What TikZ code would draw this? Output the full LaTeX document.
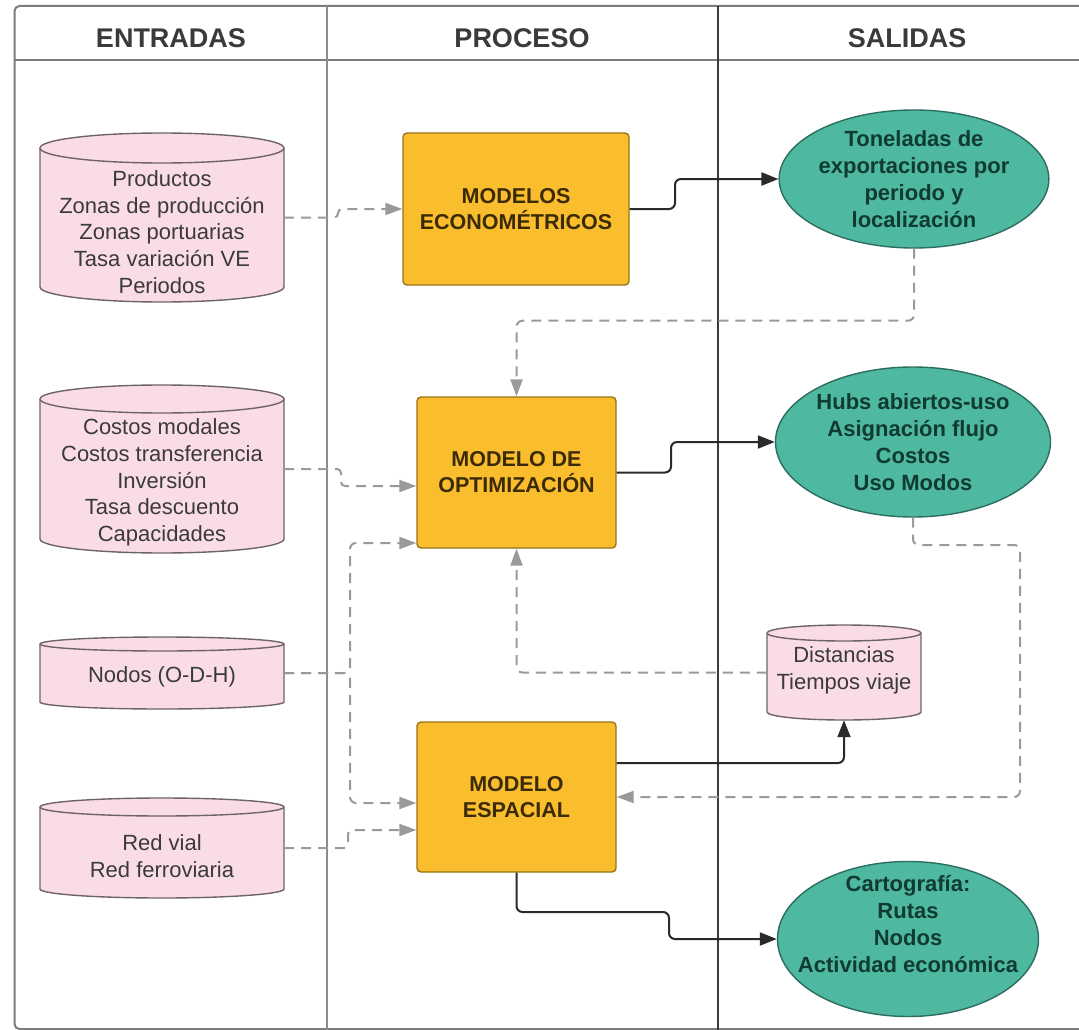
\documentclass[tikz,border=0pt]{standalone}
\usepackage{fontspec}
\setmainfont{Liberation Sans}
\usetikzlibrary{arrows.meta,calc,shapes.geometric}

\definecolor{pinkfill}{HTML}{FADDE4}
\definecolor{pinkline}{HTML}{6E6468}
\definecolor{orfill}{HTML}{FABD2D}
\definecolor{orline}{HTML}{9A7418}
\definecolor{tealfill}{HTML}{4FB8A1}
\definecolor{tealline}{HTML}{2C6D60}
\definecolor{tealtext}{HTML}{0F3B33}
\definecolor{boxtext}{HTML}{3A2A06}
\definecolor{frameline}{HTML}{7C7C7C}
\definecolor{sepone}{HTML}{8C8C8C}
\definecolor{septwo}{HTML}{3A3A3A}
\definecolor{dashline}{HTML}{9A9A9A}
\definecolor{solidline}{HTML}{2A2A2A}
\definecolor{celltext}{HTML}{3A3A3A}

\tikzset{
  cylbody/.style={fill=pinkfill, draw=pinkline, line width=1.4pt},
  cyllid/.style={draw=pinkline, line width=1.4pt},
  cyltxt/.style={align=center, text=celltext, inner sep=0pt,
    font=\fontsize{22}{26.7}\selectfont},
  headtxt/.style={text=celltext, inner sep=0pt,
    font=\bfseries\fontsize{27}{32}\selectfont},
  procbox/.style={rectangle, rounded corners=4pt, fill=orfill, draw=orline,
    line width=1.4pt, align=center, text=boxtext, inner sep=0pt,
    font=\bfseries\fontsize{21.5}{26}\selectfont},
  outell/.style={ellipse, fill=tealfill, draw=tealline, line width=1.4pt,
    align=center, text=tealtext, inner sep=0pt,
    font=\bfseries\fontsize{22}{27}\selectfont},
  dashcon/.style={draw=dashline, line width=2pt, dash pattern=on 10pt off 7pt,
    rounded corners=6pt, -{Triangle[length=17pt,width=12pt]}, color=dashline},
  solidcon/.style={draw=solidline, line width=2pt, rounded corners=6pt,
    -{Triangle[length=17pt,width=13pt]}, color=solidline},
}

% #1 name, #2 x1, #3 x2, #4 ytop, #5 ybottom, #6 lid radius, #7 text y, #8 text
\newcommand\drawcyl[8]{%
  \pgfmathsetmacro\cxm{(#2+#3)/2}%
  \pgfmathsetmacro\crx{(#3-#2)/2}%
  \pgfmathsetmacro\cyt{#4+#6}%
  \pgfmathsetmacro\cyb{#5-#6}%
  \pgfmathsetmacro\ck{0.5523*#6}%
  \pgfmathsetmacro\ckx{0.5523*\crx}%
  \path[cylbody] (#2,\cyt) -- (#2,\cyb)
     .. controls (#2,\cyb+\ck) and (\cxm-\ckx,#5) .. (\cxm,#5)
     .. controls (\cxm+\ckx,#5) and (#3,\cyb+\ck) .. (#3,\cyb)
     -- (#3,\cyt)
     .. controls (#3,\cyt-\ck) and (\cxm+\ckx,#4) .. (\cxm,#4)
     .. controls (\cxm-\ckx,#4) and (#2,\cyt-\ck) .. (#2,\cyt) -- cycle;
  \draw[cyllid] (#2,\cyt)
     .. controls (#2,\cyt+\ck) and (\cxm-\ckx,\cyt+#6) .. (\cxm,\cyt+#6)
     .. controls (\cxm+\ckx,\cyt+#6) and (#3,\cyt+\ck) .. (#3,\cyt);
  \node[inner sep=0pt, minimum width={#3-#2}, minimum height={#5-#4}]
     (#1) at (\cxm,{(#4+#5)/2}) {};
  \node[cyltxt] (#1-t) at (\cxm,#7) {#8};
}

\begin{document}
\begin{tikzpicture}[x=1pt,y=-1pt]
\useasboundingbox (0,0) rectangle (1079,1030);
\fill[white] (0,0) rectangle (1079,1030);

% frame
\begin{scope}
  \clip (0,0) rectangle (1079,1030);
  \draw[frameline, line width=2pt, rounded corners=5pt] (14.5,6) rectangle (1110,1029);
  \draw[frameline, line width=2pt] (14.5,60) -- (1110,60);
\end{scope}
\draw[sepone, line width=2.6pt] (327,6) -- (327,1030);
\draw[septwo, line width=1.6pt] (718,6) -- (718,1030);

\node[headtxt] (h1) at (171,38) {ENTRADAS};
\node[headtxt] (h2) at (522,38) {PROCESO};
\node[headtxt] (h3) at (907,38) {SALIDAS};

% inputs
\drawcyl{cyl1}{40}{284}{133}{302}{15}{232}{Productos\\Zonas de producción\\Zonas portuarias\\Tasa variación VE\\Periodos}
\drawcyl{cyl2}{40}{284}{385}{553}{14}{482.5}{Costos modales\\Costos transferencia\\Inversión\\Tasa descuento\\Capacidades}
\drawcyl{cyl3}{40}{284}{637}{709}{7}{677}{Nodos (O-D-H)}
\drawcyl{cyl4}{40}{284}{798}{898}{9}{856}{Red vial\\Red ferroviaria}
\drawcyl{cyl5}{767}{921}{625}{720}{8}{670}{Distancias\\Tiempos viaje}

% process boxes
\node[procbox, minimum width=226, minimum height=152] (box1) at (516,209) {MODELOS\\ECONOMÉTRICOS};
\node[procbox, minimum width=199, minimum height=151] (box2) at (516.5,472.5) {MODELO DE\\OPTIMIZACIÓN};
\node[procbox, minimum width=199, minimum height=150] (box3) at (516.5,797) {MODELO\\ESPACIAL};

% outputs
\node[outell, minimum width=250, minimum height=138] (e1) at (914,179) {Toneladas de\\exportaciones por\\periodo y\\localización};
\node[outell, minimum width=275, minimum height=150] (e2) at (913,442) {Hubs abiertos-uso\\Asignación flujo\\Costos\\Uso Modos};
\node[outell, minimum width=261, minimum height=155] (e3) at (908,939) {};
\node[align=center, text=tealtext, inner sep=0pt, font=\bfseries\fontsize{22}{27}\selectfont]
  (e3t) at (908,924) {Cartografía:\\Rutas\\Nodos\\Actividad económica};

% dashed connectors
\draw[dashcon, rounded corners=4pt] (cyl1.east) -- (338,217.5) -- (338,209) -- (box1.west);
\draw[dashcon, rounded corners=4pt] (cyl2.east) -- (341,469) -- (341,486) -- (box2.west |- 0,486);
\draw[dashcon] (cyl3.east) -- (350,673) -- (350,543) -- (box2.west |- 0,543);
\draw[dashcon] (cyl3.east) -- (350,673) -- (350,803) -- (box3.west |- 0,803);
\draw[dashcon, rounded corners=4pt] (cyl4.east) -- (348,848) -- (348,830) -- (box3.west |- 0,830);
\draw[dashcon] (e1.south) -- ++(0,72) -| (box2.north);
\draw[dashcon] (cyl5.west) -| (box2.south);
\draw[dashcon] (e2.south) |- (1020,545) |- (box3.east);

% solid connectors
\draw[solidcon] (box1.east) -- (675,209) -- (675,179) -- (e1.west);
\draw[solidcon] (box2.east) -- (671,472.5) -- (671,442) -- (e2.west);
\draw[solidcon] (box3.east |- 0,763) -| (cyl5.south);
\draw[solidcon] (box3.south) |- (669,912) |- (e3.west);
\end{tikzpicture}
\end{document}
